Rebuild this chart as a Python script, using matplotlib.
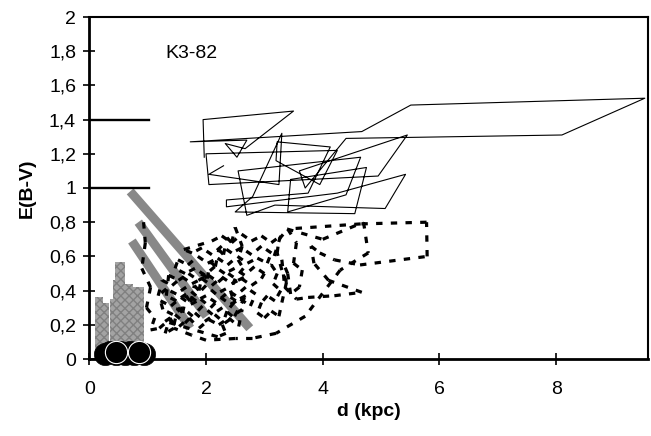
import matplotlib.pyplot as plt
from matplotlib.collections import LineCollection

plt.rcParams['font.family'] = ['Liberation Sans', 'DejaVu Sans']

# reference levels drawn as short black bars next to the y axis
ref_levels = [1.4, 1.0]
ref_x = [0.0, 1.02]

# grey textured bars: left, right, top
bar_left = [0.10, 0.23, 0.36, 0.40, 0.44, 0.57, 0.75]
bar_right = [0.23, 0.34, 0.47, 0.55, 0.61, 0.75, 0.93]
bar_top = [0.36, 0.33, 0.35, 0.46, 0.57, 0.44, 0.42]

# thick grey bands: (x0, y0) -> (x1, y1)
band_x = [[0.70, 2.75], [0.84, 2.01], [0.73, 1.73]]
band_y = [[0.98, 0.18], [0.80, 0.25], [0.69, 0.18]]

# black circles near the origin
dot_x = [0.27, 0.36, 0.45, 0.53, 0.61, 0.69, 0.77, 0.85, 0.93]
dot_y = [0.03, 0.04, 0.03, 0.04, 0.03, 0.04, 0.03, 0.04, 0.03]
dot_rim = [0.45, 0.85]

# dashed series (lower cloud)
dash_pts = [
    (0.93, 0.80), (0.96, 0.68), (0.90, 0.53), (1.05, 0.42), (0.98, 0.30), (1.12, 0.24), (1.05, 0.17),
    (1.20, 0.18), (1.37, 0.23), (1.54, 0.19), (1.71, 0.24), (1.88, 0.18), (2.05, 0.23), (2.22, 0.20),
    (2.39, 0.24), (2.56, 0.19),
    (2.62, 0.29), (2.45, 0.25), (2.28, 0.30), (2.11, 0.26), (1.94, 0.31), (1.77, 0.25), (1.60, 0.30),
    (1.43, 0.26), (1.26, 0.29),
    (1.22, 0.34), (1.40, 0.31), (1.57, 0.36), (1.74, 0.32), (1.91, 0.35), (2.08, 0.30), (2.25, 0.36),
    (2.42, 0.32), (2.59, 0.35), (2.76, 0.31),
    (2.85, 0.38), (2.68, 0.42), (2.51, 0.37), (2.34, 0.41), (2.17, 0.38), (2.00, 0.43), (1.83, 0.37),
    (1.66, 0.42), (1.49, 0.38), (1.32, 0.41), (1.18, 0.37),
    (1.25, 0.46), (1.42, 0.43), (1.59, 0.48), (1.76, 0.44), (1.93, 0.47), (2.10, 0.43), (2.27, 0.48),
    (2.44, 0.44), (2.61, 0.47), (2.78, 0.43), (2.95, 0.47),
    (3.00, 0.50), (2.83, 0.54), (2.66, 0.49), (2.49, 0.53), (2.32, 0.50), (2.15, 0.54), (1.98, 0.49),
    (1.81, 0.53), (1.64, 0.50), (1.47, 0.53),
    (1.52, 0.58), (1.69, 0.55), (1.86, 0.60), (2.03, 0.56), (2.20, 0.59), (2.37, 0.55), (2.54, 0.60),
    (2.71, 0.56), (2.88, 0.59), (3.05, 0.56),
    (3.12, 0.62), (2.95, 0.66), (2.78, 0.61), (2.61, 0.65), (2.44, 0.62), (2.27, 0.66), (2.10, 0.61),
    (1.93, 0.65), (1.76, 0.62), (1.62, 0.64),
    (2.10, 0.69), (2.27, 0.72), (2.44, 0.68), (2.61, 0.73), (2.78, 0.69), (2.95, 0.72), (3.12, 0.68),
    (3.28, 0.72),
    (3.12, 0.55), (3.22, 0.50), (3.15, 0.44), (3.28, 0.40), (3.18, 0.34), (3.05, 0.37), (2.95, 0.33),
    (2.88, 0.27), (3.00, 0.24), (3.12, 0.28), (3.25, 0.25), (3.30, 0.33), (3.38, 0.45), (3.30, 0.52),
    (3.22, 0.62),
    (3.25, 0.70), (3.40, 0.76), (3.55, 0.68), (3.50, 0.56), (3.65, 0.52), (3.60, 0.42), (3.45, 0.38),
    (3.40, 0.50), (3.30, 0.58), (3.35, 0.42), (3.55, 0.35), (3.75, 0.36), (4.20, 0.37), (4.67, 0.39),
    (4.10, 0.46), (3.85, 0.56), (3.80, 0.66), (3.95, 0.62), (4.20, 0.58), (4.64, 0.55), (5.79, 0.60),
    (5.78, 0.80), (4.65, 0.79), (3.39, 0.76), (4.00, 0.70), (4.70, 0.80), (4.78, 0.62), (4.30, 0.52),
    (3.70, 0.25), (3.20, 0.15), (2.78, 0.12), (2.50, 0.12), (2.00, 0.11), (1.75, 0.14), (1.45, 0.18),
    (1.30, 0.15),
    (1.38, 0.24), (1.45, 0.20), (1.52, 0.30), (1.60, 0.27), (1.66, 0.37), (1.74, 0.33), (1.80, 0.43),
    (1.88, 0.40), (1.94, 0.50), (2.02, 0.47), (2.08, 0.57), (2.16, 0.54), (2.22, 0.64), (2.30, 0.61),
    (2.36, 0.71), (2.44, 0.68), (2.50, 0.77),
    (2.62, 0.66), (2.55, 0.58), (2.64, 0.53), (2.50, 0.47), (2.42, 0.40), (2.48, 0.33), (2.36, 0.28),
    (2.28, 0.20), (2.34, 0.15), (2.20, 0.13),
    (1.30, 0.22), (1.47, 0.26), (1.64, 0.21), (1.81, 0.27), (1.98, 0.22), (2.15, 0.26), (2.32, 0.21),
    (2.49, 0.25),
    (2.68, 0.37), (2.51, 0.34), (2.34, 0.38), (2.17, 0.33), (2.00, 0.37), (1.83, 0.34), (1.66, 0.38),
    (1.49, 0.34), (1.32, 0.37),
    (1.36, 0.49), (1.53, 0.46), (1.70, 0.50), (1.87, 0.46), (2.04, 0.49), (2.21, 0.45), (2.38, 0.50),
    (2.55, 0.46), (2.72, 0.49),
]

# thin solid series (upper cloud)
solid_pts = [
    (1.97, 1.18), (1.95, 1.40), (3.50, 1.45), (2.67, 1.23), (2.33, 1.26), (2.53, 1.18), (2.70, 1.28),
    (1.73, 1.27), (4.67, 1.33), (5.51, 1.485), (9.52, 1.525), (8.10, 1.31), (4.40, 1.29), (3.70, 1.00),
    (3.60, 1.10), (5.45, 1.31), (4.95, 1.07), (2.05, 1.02), (2.00, 1.20), (4.25, 1.22), (3.95, 1.02),
    (3.20, 1.16), (3.22, 1.27), (4.13, 1.24), (3.75, 0.97), (2.35, 0.93), (2.35, 0.89), (4.25, 0.97),
    (5.42, 1.08), (5.07, 0.88), (3.18, 0.90), (2.70, 0.84), (2.55, 1.10), (4.65, 1.18), (4.40, 0.96),
    (3.40, 0.86), (3.45, 1.05), (4.75, 1.12), (4.55, 0.85), (2.50, 0.86), (2.80, 0.95), (3.30, 1.32),
    (3.25, 1.02), (2.05, 1.08), (2.30, 1.13),
]
solid_x = [p[0] for p in solid_pts]
solid_y = [p[1] for p in solid_pts]

x_ticks = [0, 2, 4, 6, 8]
y_ticks = [0, 0.2, 0.4, 0.6, 0.8, 1.0, 1.2, 1.4, 1.6, 1.8, 2.0]
y_tick_labels = ['0', '0,2', '0,4', '0,6', '0,8', '1', '1,2', '1,4', '1,6', '1,8', '2']

fig = plt.figure(figsize=(6.51, 4.36), dpi=100)
ax = fig.add_axes([89.3 / 651, 1 - 359 / 436, (648 - 89.3) / 651, (359 - 17) / 436])

for lft, rgt, top in zip(bar_left, bar_right, bar_top):
    ax.bar(lft, top, width=rgt - lft, align='edge', facecolor='#a3a3a3',
           edgecolor='#808080', hatch='xxxx', linewidth=0, zorder=2)

for bx, by in zip(band_x, band_y):
    ax.plot(bx, by, color='#888888', lw=6.5, solid_capstyle='butt', zorder=3)

# each segment restarts its dash pattern, like the spreadsheet renderer
segs = [[dash_pts[i], dash_pts[i + 1]] for i in range(len(dash_pts) - 1)]
ax.add_collection(LineCollection(segs, colors='black', linewidths=2.3,
                                 linestyles=[(0, (2.0, 2.6))], zorder=4))
ax.plot(solid_x, solid_y, color='black', lw=0.8, zorder=4)

for lvl in ref_levels:
    ax.plot(ref_x, [lvl, lvl], color='black', lw=1.7, zorder=5)

ax.plot(dot_x, dot_y, 'o', ms=16, mfc='black', mec='black', mew=0.5,
        zorder=6, clip_on=False)
ax.plot(dot_rim, [0.04, 0.04], 'o', ms=16, mfc='black', mec='white', mew=0.8,
        zorder=6, clip_on=False)

ax.text(1.3, 1.76, 'K3-82', fontsize=14, va='baseline')

ax.set_xlim(0, 9.575)
ax.set_ylim(0, 2)
ax.set_xticks(x_ticks)
ax.set_xticklabels([str(t) for t in x_ticks])
ax.set_yticks(y_ticks)
ax.set_yticklabels(y_tick_labels)
ax.tick_params(direction='inout', length=9, width=1.2, labelsize=14)
ax.tick_params(axis='x', pad=11)
ax.tick_params(axis='y', pad=5)

for side in ['left', 'bottom']:
    ax.spines[side].set_linewidth(2.0)
for side in ['top', 'right']:
    ax.spines[side].set_linewidth(1.5)

fig.text(368.6 / 651, 1 - 411 / 436, 'd (kpc)', fontsize=14, fontweight='bold',
         ha='center', va='center')
fig.text(27 / 651, 1 - 188 / 436, 'E(B-V)', fontsize=14, fontweight='bold',
         ha='center', va='center', rotation=90)

fig.savefig('out.png', dpi=100)
